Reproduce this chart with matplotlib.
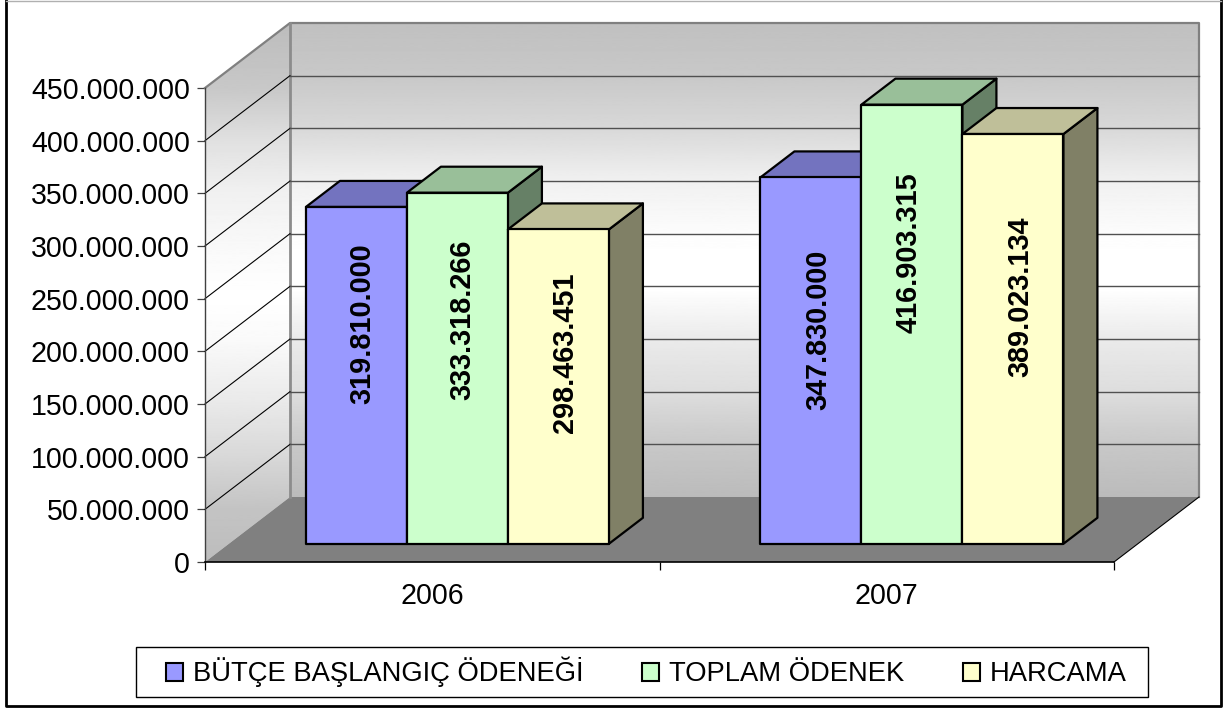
import numpy as np
import matplotlib
matplotlib.use("Agg")
import matplotlib.pyplot as plt
from matplotlib.lines import Line2D
from matplotlib.patches import Polygon, Patch, Rectangle
from matplotlib.ticker import FuncFormatter, FixedLocator, NullFormatter

plt.rcParams['font.family'] = ['Liberation Sans', 'DejaVu Sans']

years = ["2006", "2007"]
series_names = ["BÜTÇE BAŞLANGIÇ ÖDENEĞİ", "TOPLAM ÖDENEK", "HARCAMA"]
butce = [319810000, 347830000]
toplam = [333318266, 416903315]
harcama = [298463451, 389023134]
y_ticks = list(range(0, 450000001, 50000000))

front_colors = ["#9999FF", "#CCFFCC", "#FFFFCC"]
top_colors = ["#7373BF", "#99BF99", "#BFBF99"]
side_colors = ["#4D4D80", "#668066", "#808066"]

W, H = 1223, 708
# pixel box of the front plane
left, right, bottom, top = 205, 1114, 562, 88
Y_MAX = 450000000
# oblique offset of the back wall, in data units
DX = 85 / ((right - left) / 2)
DY = 65 / (bottom - top) * Y_MAX
BAR_W = 1 / 4.5
BAR_SHIFT = 0.003
D0, D1 = 0.28, 0.68
# where Excel put the labels, as part of the bar height
label_frac = [[0.654, 0.639, 0.609], [0.584, 0.662, 0.604]]
label_shift = [[0.013, 0.011, 0.015], [0.017, -0.007, 0.017]]


def pr(x, v, d=0.0):
    return (x + d * DX, v + d * DY)


def fmt(v, pos=None):
    return f"{v:,.0f}".replace(",", ".")


def wall_fill(ax, corners, y_lo, y_hi, fracs, greys):
    # vertical grey ramp between y_hi and y_lo, clipped to the wall shape
    t = np.linspace(0, 1, 500)
    g = np.interp(t, fracs, greys).reshape(-1, 1) / 255
    im = ax.imshow(g, cmap="gray", vmin=0, vmax=1, aspect="auto",
                   extent=[0, 2 + DX, y_lo, y_hi], zorder=1)
    im.set_clip_path(Polygon(corners, transform=ax.transData))
    im.set_clip_box(fig.bbox)


fig = plt.figure(figsize=(W / 100, H / 100), dpi=100)
ax = fig.add_axes([left / W, 1 - bottom / H, (right - left) / W, (bottom - top) / H])
ax.patch.set_visible(False)

wall_fill(ax, [pr(0, 0, 1), pr(2, 0, 1), pr(2, Y_MAX, 1), pr(0, Y_MAX, 1)], DY, Y_MAX + DY,
          [0, 0.11, 0.22, 0.33, 0.45, 0.5, 0.56, 0.67, 0.78, 0.89, 1],
          [0xC0, 0xC8, 0xD8, 0xF0, 0xFD, 0xFF, 0xFF, 0xEA, 0xDD, 0xC8, 0xBB])
wall_fill(ax, [pr(0, 0), pr(0, 0, 1), pr(0, Y_MAX, 1), pr(0, Y_MAX)], 0, Y_MAX + DY,
          [0, 0.12, 0.216, 0.31, 0.43, 0.51, 0.585, 0.7, 0.805, 0.9, 1],
          [0xBC, 0xC8, 0xE0, 0xF0, 0xFA, 0xFF, 0xFA, 0xEA, 0xD8, 0xC4, 0xBC])
ax.set_xlim(0, 2)
ax.set_ylim(0, Y_MAX)

# floor
ax.add_patch(Polygon([pr(0, 0), pr(2, 0), pr(2, 0, 1), pr(0, 0, 1)], closed=True,
                     fc="#808080", ec="none", clip_on=False, zorder=2))
ax.add_line(Line2D(*zip(pr(2, 0), pr(2, 0, 1)), color="black", lw=0.8, clip_on=False, zorder=4))

# wall edges
ax.add_line(Line2D(*zip(pr(0, Y_MAX), pr(0, Y_MAX, 1), pr(2, Y_MAX, 1), pr(2, 0, 1)),
                   color="#808080", lw=1.6, clip_on=False, zorder=3))
ax.add_line(Line2D(*zip(pr(0, Y_MAX, 1), pr(0, 0, 1)), color="#8C8C8C", lw=2.0, clip_on=False, zorder=3))

# grid lines on both walls
for v in y_ticks[1:-1]:
    ax.add_line(Line2D(*zip(pr(0, v), pr(0, v, 1)), color="black", lw=0.8, clip_on=False, zorder=3))
    ax.add_line(Line2D(*zip(pr(0, v, 1), pr(2, v, 1)), color="#505050", lw=1.0, clip_on=False, zorder=3))

# bars
values = [butce, toplam, harcama]
for i in range(len(years)):
    for j, vals in enumerate(values):
        v = vals[i]
        x0 = i + BAR_W * (0.75 + j) + BAR_SHIFT
        x1 = x0 + BAR_W
        z = 5 + i * 3 + j
        ax.add_patch(Polygon([pr(x1, 0, D0), pr(x1, 0, D1), pr(x1, v, D1), pr(x1, v, D0)], closed=True,
                             fc=side_colors[j], ec="black", lw=1.6, joinstyle="round", clip_on=False, zorder=z))
        ax.add_patch(Polygon([pr(x0, v, D0), pr(x1, v, D0), pr(x1, v, D1), pr(x0, v, D1)], closed=True,
                             fc=top_colors[j], ec="black", lw=1.6, joinstyle="round", clip_on=False, zorder=z))
        ax.add_patch(Polygon([pr(x0, 0, D0), pr(x1, 0, D0), pr(x1, v, D0), pr(x0, v, D0)], closed=True,
                             fc=front_colors[j], ec="black", lw=1.6, joinstyle="round", clip_on=False, zorder=z))
        lx, ly = pr((x0 + x1) / 2 + label_shift[i][j], v * label_frac[i][j], D0)
        ax.text(lx, ly, fmt(v), rotation=90, ha="center", va="center", fontsize=20.8,
                fontweight="bold", color="black", zorder=20)

# axes
for s in ["top", "right"]:
    ax.spines[s].set_visible(False)
ax.spines["left"].set_color("#404040")
ax.spines["left"].set_linewidth(1.0)
ax.spines["bottom"].set_color("black")
ax.spines["bottom"].set_linewidth(1.2)
ax.spines["left"].set_zorder(4)
ax.spines["bottom"].set_zorder(4)
ax.yaxis.set_major_locator(FixedLocator(y_ticks))
ax.yaxis.set_major_formatter(FuncFormatter(fmt))
ax.tick_params(axis="y", length=5.8, width=0.9, color="#404040", pad=5, labelsize=20.6, labelcolor="black")
ax.xaxis.set_major_locator(FixedLocator([0, 1, 2]))
ax.xaxis.set_major_formatter(NullFormatter())
ax.xaxis.set_minor_locator(FixedLocator([0.5, 1.5]))
ax.set_xticklabels(years, minor=True)
ax.tick_params(axis="x", which="major", length=5.8, width=0.9, color="black")
ax.tick_params(axis="x", which="minor", length=0, pad=14.5, labelsize=20.6)

# legend, the frame is drawn apart because it is wider than it is padded high
fig.add_artist(Rectangle((136 / W, 1 - 697 / H), (1148 - 136) / W, 50 / H, fc="white", ec="black", lw=1.0,
                         transform=fig.transFigure))
handles = [Patch(fc=c, ec="black", lw=1.5) for c in front_colors]
leg = fig.legend(handles, series_names, ncols=3, loc="center", bbox_to_anchor=(646.5 / W, 1 - 672 / H),
                 fontsize=19.7, frameon=False, handlelength=0.625, handleheight=0.625,
                 handletextpad=0.37, columnspacing=2.13, borderpad=0, borderaxespad=0)

# chart frame
fig.add_artist(Line2D([5.5 / W, 5.5 / W, 1221 / W, 1221 / W], [1, 1 - 705.5 / H, 1 - 705.5 / H, 1],
                      color="black", lw=2.0, transform=fig.transFigure))
fig.add_artist(Line2D([5.5 / W, 1221 / W], [1 - 0.5 / H, 1 - 0.5 / H], color="#B0B0B0", lw=1.0,
                      transform=fig.transFigure))

fig.savefig("out.png", dpi=100)
